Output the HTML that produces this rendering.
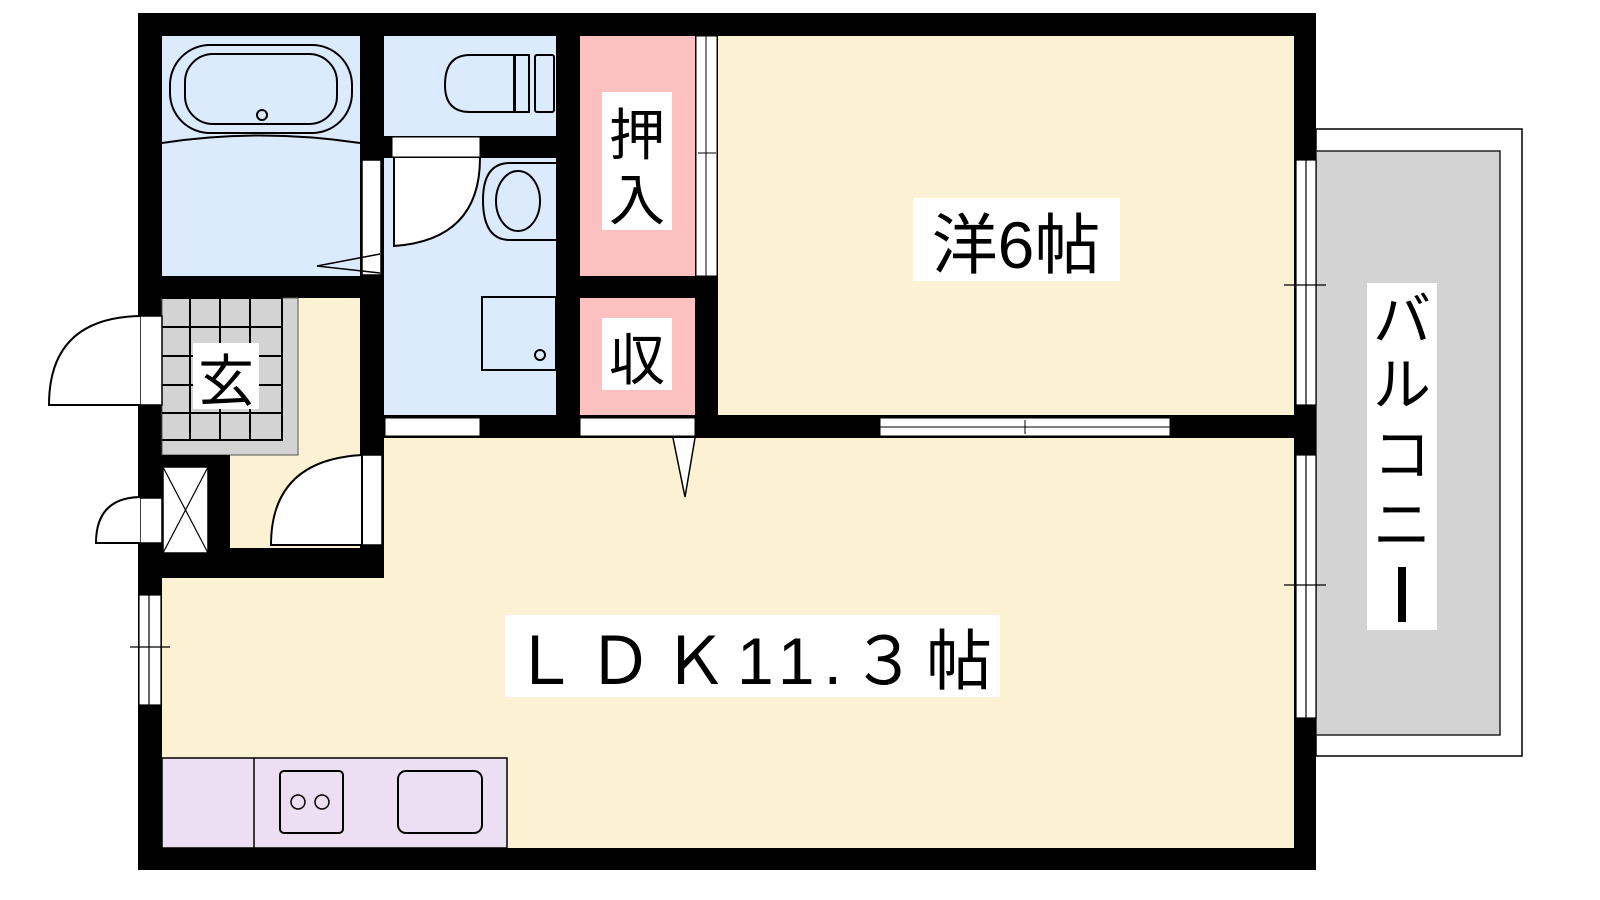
<!DOCTYPE html>
<html><head><meta charset="utf-8"><style>
html,body{margin:0;padding:0;background:#fff;width:1600px;height:900px;overflow:hidden}
text{font-family:"Liberation Sans","Noto Sans CJK JP",sans-serif;fill:#000}
</style></head><body>
<svg width="1600" height="900" viewBox="0 0 1600 900" xmlns="http://www.w3.org/2000/svg">
<!-- balcony -->
<rect x="1316" y="129" width="206" height="627" fill="#fff" stroke="#000" stroke-width="1.5"/>
<rect x="1316" y="151" width="184" height="584" fill="#d3d3d3" stroke="#222" stroke-width="1.5"/>
<!-- outer black -->
<rect x="138" y="13" width="1178" height="857" fill="#000"/>
<!-- rooms -->
<rect x="162" y="36" width="198" height="240" fill="#dbeafc"/>
<rect x="384" y="36" width="172" height="100" fill="#dbeafc"/>
<rect x="384" y="158" width="172" height="257" fill="#dbeafc"/>
<rect x="580" y="36" width="115" height="240" fill="#fdc0c0"/>
<rect x="580" y="298" width="115" height="117" fill="#fdc0c0"/>
<rect x="718" y="36" width="576" height="379" fill="#fdf1d3"/>
<rect x="384" y="438" width="910" height="150" fill="#fdf1d3"/>
<rect x="162" y="578" width="1132" height="270" fill="#fdf1d3"/>
<rect x="162" y="298" width="198" height="250" fill="#fdf1d3"/>
<!-- genkan tiles -->
<rect x="162" y="298" width="136" height="157" fill="#d3d3d3" stroke="#555" stroke-width="1"/>
<g stroke="#000" stroke-width="2" fill="none">
<path d="M162 298H282V440H162"/>
<path d="M190 298V440M220 298V440M250 298V440M162 327H282M162 356H282M162 385H282M162 413H282"/>
</g>
<!-- shoe box area -->
<rect x="162" y="455" width="68" height="93" fill="#000"/>
<rect x="163" y="467" width="45" height="86" fill="#fff" stroke="#000" stroke-width="1.5"/>
<path d="M163 467L208 553M208 467L163 553" stroke="#000" stroke-width="1.2"/>
<!-- kitchen -->
<rect x="162" y="758" width="345" height="90" fill="#ecdff4" stroke="#000" stroke-width="1.5"/>
<line x1="254" y1="758" x2="254" y2="848" stroke="#000" stroke-width="1.5"/>
<rect x="280" y="771" width="63" height="62" rx="4" fill="none" stroke="#000" stroke-width="2"/>
<circle cx="298" cy="802" r="7" fill="none" stroke="#000" stroke-width="1.5"/>
<circle cx="322" cy="802" r="7" fill="none" stroke="#000" stroke-width="1.5"/>
<rect x="398" y="771" width="84" height="62" rx="8" fill="none" stroke="#000" stroke-width="2"/>
<!-- bath tub -->
<g fill="none" stroke="#000" stroke-width="2">
<rect x="170" y="45" width="182" height="88" rx="40"/>
<rect x="185" y="54" width="152" height="70" rx="28"/>
<circle cx="262" cy="115" r="5"/>
<path d="M162 143Q260 128 360 143"/>
<path d="M514 55H470Q445 55 445 85Q445 112 470 112H514Z"/>
<rect x="515" y="55" width="14" height="57"/>
<rect x="535" y="55" width="19" height="57" rx="2"/>
<path d="M556 163H510Q483 163 483 200Q483 240 510 240H556"/>
<ellipse cx="518" cy="201" rx="22" ry="30"/>
<rect x="482" y="297" width="74" height="73"/>
<circle cx="540" cy="355" r="5"/>
</g>
<!-- bath door -->
<rect x="362" y="160" width="19" height="115" fill="#fff" stroke="#000" stroke-width="1.5"/>
<path d="M380 254L317 266L380 273" fill="none" stroke="#000" stroke-width="1.5"/>
<!-- toilet door -->
<rect x="392" y="137" width="88" height="20" fill="#fff" stroke="#000" stroke-width="1"/>
<path d="M394 158V246Q480 240 480 158" fill="#fff" stroke="#000" stroke-width="2"/>
<!-- hallway door -->
<rect x="362" y="455" width="20" height="90" fill="#fff" stroke="#000" stroke-width="1.5"/>
<path d="M362 545H271Q271 460 362 455Z" fill="#fff" stroke="#000" stroke-width="2"/>
<!-- front door -->
<rect x="140" y="316" width="22" height="89" fill="#fff" stroke="#000" stroke-width="1.5"/>
<path d="M140 405H49Q49 318 140 316" fill="#fff" stroke="#000" stroke-width="2"/>
<!-- small door -->
<rect x="140" y="498" width="22" height="45" fill="#fff" stroke="#000" stroke-width="1.5"/>
<path d="M140 543H96Q96 498 140 497" fill="#fff" stroke="#000" stroke-width="2"/>
<!-- wall openings -->
<rect x="385" y="418" width="95" height="18" fill="#fff" stroke="#000" stroke-width="1"/>
<rect x="580" y="418" width="115" height="18" fill="#fff" stroke="#000" stroke-width="1"/>
<path d="M673 438L685 497L695 438" fill="#fff" stroke="#000" stroke-width="1.5"/>
<rect x="880" y="418" width="290" height="18" fill="#fff" stroke="#000" stroke-width="1"/>
<line x1="880" y1="427" x2="1170" y2="427" stroke="#000" stroke-width="1"/>
<line x1="1025" y1="420" x2="1025" y2="434" stroke="#000" stroke-width="1"/>
<rect x="696" y="36" width="21" height="240" fill="#fff" stroke="#000" stroke-width="1"/>
<line x1="706" y1="36" x2="706" y2="276" stroke="#000" stroke-width="1"/>
<line x1="698" y1="153" x2="716" y2="153" stroke="#000" stroke-width="1"/>
<g fill="#fff" stroke="#000" stroke-width="1.2">
<rect x="1296" y="160" width="20" height="245"/>
<rect x="1296" y="455" width="20" height="263"/>
<rect x="139" y="595" width="22" height="110"/>
</g>
<g stroke="#000" stroke-width="1.2">
<line x1="1306" y1="160" x2="1306" y2="405"/>
<line x1="1306" y1="455" x2="1306" y2="718"/>
<line x1="1284" y1="285" x2="1326" y2="285"/>
<line x1="1284" y1="585" x2="1326" y2="585"/>
<line x1="149" y1="595" x2="149" y2="705"/>
<line x1="130" y1="647" x2="170" y2="647"/>
</g>
<!-- labels -->
<rect x="602" y="92" width="70" height="138" fill="#fff"/>
<text x="637" y="155" font-size="56" text-anchor="middle">押</text>
<text x="637" y="220" font-size="56" text-anchor="middle">入</text>
<rect x="602" y="318" width="70" height="72" fill="#fff"/>
<text x="637" y="380" font-size="56" text-anchor="middle">収</text>
<rect x="193" y="343" width="66" height="66" fill="#fff"/>
<text x="226" y="401" font-size="56" text-anchor="middle">玄</text>
<rect x="913" y="198" width="207" height="83" fill="#fff"/>
<text x="1016" y="268" font-size="66" text-anchor="middle">洋6帖</text>
<rect x="505" y="615" width="495" height="82" fill="#fff"/>
<text x="752" y="684" font-size="66" text-anchor="middle" textLength="480">ＬＤＫ11.３帖</text>
<rect x="1367" y="283" width="70" height="347" fill="#fff"/>
<text x="1402" y="340" font-size="58" text-anchor="middle">バ</text>
<text x="1402" y="405" font-size="58" text-anchor="middle">ル</text>
<text x="1402" y="475" font-size="58" text-anchor="middle">コ</text>
<text x="1402" y="545" font-size="58" text-anchor="middle">ニ</text>
<rect x="1398" y="567" width="8" height="55" fill="#000"/>
</svg>
</body></html>
